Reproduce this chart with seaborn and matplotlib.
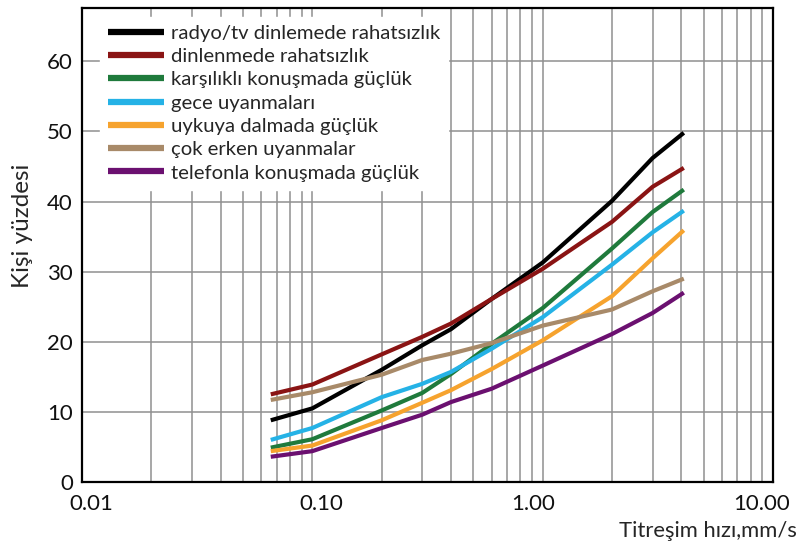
import numpy as np
import pandas as pd
import matplotlib
matplotlib.use("Agg")
import matplotlib.pyplot as plt
import matplotlib.transforms as mtransforms
from matplotlib.ticker import LogLocator, FixedLocator, FixedFormatter, NullFormatter
import seaborn as sns

# Vibration velocity (mm/s) at which each response curve is read
velocity = [0.066, 0.1, 0.2, 0.3, 0.4, 0.6, 1.0, 2.0, 3.0, 4.1]

radyo_tv = [8.8, 10.5, 16.0, 19.5, 21.8, 26.1, 31.3, 40.1, 46.2, 49.8]
dinlenme = [12.5, 13.9, 18.2, 20.7, 22.6, 26.1, 30.4, 37.1, 42.1, 44.8]
karsilikli = [4.9, 6.1, 10.2, 12.7, 15.4, 19.7, 24.8, 33.3, 38.5, 41.7]
gece = [6.0, 7.7, 12.1, 14.0, 15.7, 19.0, 23.5, 31.0, 35.6, 38.7]
uykuya = [4.4, 5.2, 8.8, 11.3, 13.1, 16.1, 20.2, 26.5, 31.9, 35.9]
erken = [11.7, 12.8, 15.3, 17.4, 18.3, 19.8, 22.3, 24.6, 27.2, 29.0]
telefon = [3.6, 4.4, 7.7, 9.6, 11.4, 13.3, 16.6, 21.1, 24.1, 27.0]

series_names = [
    "radyo/tv dinlemede rahatsızlık",
    "dinlenmede rahatsızlık",
    "karşılıklı konuşmada güçlük",
    "gece uyanmaları",
    "uykuya dalmada güçlük",
    "çok erken uyanmalar",
    "telefonla konuşmada güçlük",
]
series_values = [radyo_tv, dinlenme, karsilikli, gece, uykuya, erken, telefon]
colors = ["#000000", "#8a1414", "#1f7a3c", "#25b2e6", "#f6a32e", "#a88a69", "#6b1070"]

y_ticks = [0, 10, 20, 30, 40, 50, 60]
x_ticks = [0.01, 0.1, 1.0, 10.0]
x_tick_labels = ["0.01", "0.10", "1.00", "10.00"]

rows = []
for name, vals in zip(series_names, series_values):
    for x, y in zip(velocity, vals):
        rows.append({"hiz": x, "yuzde": y, "durum": name})
df = pd.DataFrame(rows)

sns.set_style("white")
plt.rcParams["font.family"] = ["Lato", "DejaVu Sans"]

fig = plt.figure(figsize=(7.98, 5.54), dpi=100)
ax = fig.add_axes([82 / 798, 72 / 554, 691 / 798, 474 / 554])

sns.lineplot(
    data=df, x="hiz", y="yuzde", hue="durum", hue_order=series_names,
    palette=colors, linewidth=3.0, ax=ax, legend=True, sort=True,
    solid_capstyle="butt", zorder=3,
)

ax.set_xscale("log")
ax.set_xlim(0.01, 10.0)
ax.set_ylim(0, 67.6)

ax.xaxis.set_major_locator(FixedLocator(x_ticks))
ax.xaxis.set_major_formatter(FixedFormatter(x_tick_labels))
ax.xaxis.set_minor_locator(LogLocator(base=10, subs=np.arange(2, 10)))
ax.xaxis.set_minor_formatter(NullFormatter())
ax.set_yticks(y_ticks)

ax.grid(True, which="both", axis="x", color="#8f8f8f", linewidth=1.1)
ax.grid(True, which="major", axis="y", color="#8f8f8f", linewidth=1.1)
ax.set_axisbelow(True)

ax.tick_params(axis="both", which="both", length=0, labelsize=16, colors="#111111")
ax.tick_params(axis="x", pad=9)
ax.tick_params(axis="y", pad=6.5)

# nudge the decade labels sideways so the last one stays inside the figure
label_shifts_px = [9, 9, -10, -11]
for lab, dx in zip(ax.get_xticklabels(), label_shifts_px):
    lab.set_transform(lab.get_transform()
                      + mtransforms.ScaledTranslation(dx / 100, 0, fig.dpi_scale_trans))

for sp in ax.spines.values():
    sp.set_visible(True)
    sp.set_color("#000000")
    sp.set_linewidth(1.6)

ax.set_xlabel("Titreşim hızı,mm/s", fontsize=15.8, ha="right")
ax.xaxis.set_label_coords(1.034, -0.082)
ax.set_ylabel("Kişi yüzdesi", fontsize=17.5)
ax.yaxis.set_label_coords(-0.071, 0.54)

leg = ax.legend(
    loc="upper left", bbox_to_anchor=(0.026, 0.982), borderaxespad=0,
    borderpad=0.4, fontsize=14.6, handlelength=2.75, handletextpad=0.35,
    labelspacing=0.3, frameon=True, fancybox=False, framealpha=1.0,
    facecolor="white", edgecolor="white",
)
leg.set_zorder(5)
for h in leg.get_lines():
    h.set_linewidth(4.5)
    h.set_solid_capstyle("butt")

fig.savefig("out.png", dpi=100, facecolor="white")
